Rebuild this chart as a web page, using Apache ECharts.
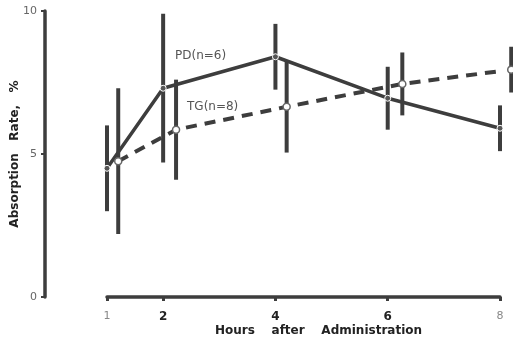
<!DOCTYPE html>
<html><head><meta charset="utf-8">
<script src="https://cdn.jsdelivr.net/npm/echarts@6/dist/echarts.min.js"></script>
<style>html,body{margin:0;padding:0;background:#fff}#c{width:513px;height:346px}</style>
</head><body><div id="c"></div>
<script>
// Data
const pdHours = [1, 2, 4, 6, 8];
const pdMean = [4.5, 7.3, 8.4, 6.95, 5.9];
const pdErr = [1.5, 2.6, 1.15, 1.1, 0.8];
const tgHours = [1.2, 2.23, 4.2, 6.26, 8.2];
const tgMean = [4.75, 5.85, 6.65, 7.45, 7.95];
const tgErr = [2.55, 1.75, 1.6, 1.1, 0.8];
const xTickLabels = [1, 2, 4, 6, 8];
const yTickLabels = [0, 5, 10];

const ink = '#3d3d3d';
const font = 'DejaVu Sans, Liberation Sans, Arial, sans-serif';
const chart = echarts.init(document.getElementById('c'), null, {renderer: 'canvas'});

function errData(xs, ms, es) {
  return xs.map((x, i) => [x, ms[i] - es[i], ms[i] + es[i]]);
}
function errRender(params, api) {
  const x = api.value(0);
  const lo = api.coord([x, api.value(1)]);
  const hi = api.coord([x, api.value(2)]);
  return {
    type: 'line',
    shape: {x1: lo[0], y1: lo[1], x2: hi[0], y2: hi[1]},
    style: {stroke: ink, lineWidth: 4}
  };
}

chart.setOption({
  animation: false,
  backgroundColor: '#fff',
  textStyle: {fontFamily: font},
  grid: {left: 107, right: 13, top: 11, bottom: 49, containLabel: false, outerBoundsMode: 'none'},
  xAxis: {
    type: 'value', min: 1, max: 8, interval: 1,
    name: 'Hours    after    Administration',
    nameLocation: 'middle', nameGap: 28, nameMoveOverlap: false,
    nameTextStyle: {fontSize: 12, fontWeight: 'bold', color: '#222', fontFamily: font, padding: [0, 0, 0, 30]},
    axisLine: {lineStyle: {color: ink, width: 3.5}},
    axisTick: {show: true, customValues: xTickLabels, length: 4, lineStyle: {color: ink, width: 3}},
    axisLabel: {
      customValues: xTickLabels, margin: 14, fontSize: 12, fontWeight: 'bold', color: '#222', fontFamily: font,
      formatter: v => (v === 1 || v === 8) ? '{l|' + v + '}' : String(v),
      rich: {l: {fontSize: 11, fontWeight: 'normal', color: '#888', fontFamily: font}}
    },
    splitLine: {show: false}
  },
  yAxis: {
    type: 'value', min: 0, max: 10, interval: 5,
    offset: 62,
    name: 'Absorption   Rate,   %',
    nameLocation: 'middle', nameGap: 24, nameRotate: 90, nameMoveOverlap: false,
    nameTextStyle: {fontSize: 12, fontWeight: 'bold', color: '#222', fontFamily: font},
    axisLine: {show: true, lineStyle: {color: ink, width: 3.5}},
    axisTick: {show: true, length: 4, lineStyle: {color: ink, width: 2}},
    axisLabel: {fontSize: 11, color: '#666', margin: 8, fontFamily: font,
      formatter: v => yTickLabels.includes(v) ? String(v) : ''},
    splitLine: {show: false}
  },
  graphic: [
    {type: 'text', left: 175, top: 50, style: {text: 'PD(n=6)', fontSize: 12, fill: '#555', fontFamily: font}},
    {type: 'text', left: 187, top: 101, style: {text: 'TG(n=8)', fontSize: 12, fill: '#555', fontFamily: font}}
  ],
  series: [
    {type: 'custom', renderItem: errRender, data: errData(pdHours, pdMean, pdErr), clip: false, z: 1, encode: {x: 0, y: [1, 2]}},
    {type: 'custom', renderItem: errRender, data: errData(tgHours, tgMean, tgErr), clip: false, z: 1, encode: {x: 0, y: [1, 2]}},
    {
      type: 'line', name: 'PD', data: pdHours.map((x, i) => [x, pdMean[i]]),
      symbol: 'circle', symbolSize: 6, clip: false, z: 3,
      lineStyle: {color: ink, width: 3.5},
      itemStyle: {color: '#555', borderColor: '#fff', borderWidth: 1}
    },
    {
      type: 'line', name: 'TG', data: tgHours.map((x, i) => [x, tgMean[i]]),
      symbol: 'circle', symbolSize: 7, clip: false, z: 3,
      lineStyle: {color: ink, width: 4, type: [11, 8]},
      itemStyle: {color: '#fff', borderColor: '#666', borderWidth: 1.5}
    }
  ]
});
</script></body></html>
